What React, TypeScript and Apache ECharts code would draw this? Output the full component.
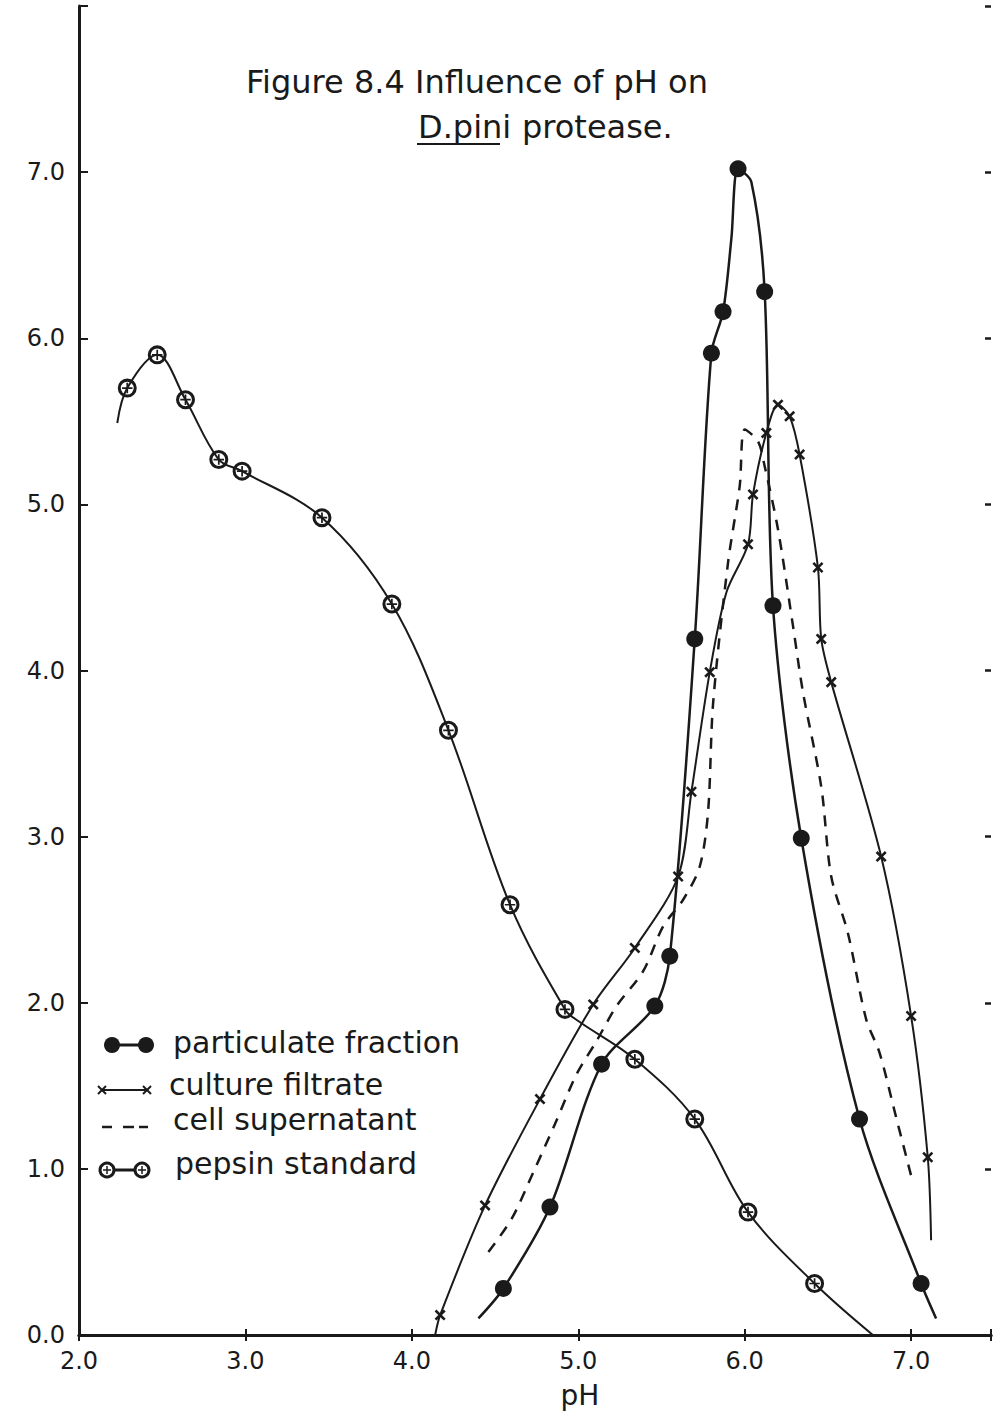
import React, { useEffect, useRef } from "react";
import * as echarts from "echarts";

const INK = "#1a1a1a";
const FONT = '"DejaVu Sans", sans-serif';

// Axis ranges (pH on x, activity on y)
const X_MIN = 2;
const X_MAX = 7.48;
const Y_MIN = 0;
const Y_MAX = 8;

// Particulate fraction: 1 = plotted point, 0 = point on the drawn curve only
const partPH = [4.4, 4.55, 4.83, 5.14, 5.46, 5.55, 5.7, 5.8, 5.87, 5.92, 5.96, 6.04, 6.12, 6.17, 6.34, 6.69, 7.06, 7.15];
const partAct = [0.1, 0.28, 0.77, 1.63, 1.98, 2.28, 4.19, 5.91, 6.16, 6.6, 7.02, 6.94, 6.28, 4.39, 2.99, 1.3, 0.31, 0.1];
const partMark = [0, 1, 1, 1, 1, 1, 1, 1, 1, 0, 1, 0, 1, 1, 1, 1, 1, 0];

// Culture filtrate
const cultPH = [4.14, 4.17, 4.44, 4.77, 5.09, 5.34, 5.6, 5.68, 5.79, 5.89, 6.02, 6.05, 6.13, 6.2, 6.27, 6.33, 6.44, 6.46, 6.52, 6.82, 7.0, 7.1, 7.12];
const cultAct = [0.0, 0.12, 0.78, 1.42, 1.99, 2.33, 2.76, 3.27, 3.99, 4.47, 4.76, 5.06, 5.43, 5.6, 5.53, 5.3, 4.62, 4.19, 3.93, 2.88, 1.92, 1.07, 0.57];
const cultMark = [0, 1, 1, 1, 1, 1, 1, 1, 1, 0, 1, 1, 1, 1, 1, 1, 1, 1, 1, 1, 1, 1, 0];

// Cell supernatant (dashed, no plotted points)
const supPH = [4.46, 4.6, 4.73, 4.86, 4.99, 5.11, 5.23, 5.39, 5.51, 5.63, 5.73, 5.78, 5.81, 5.9, 5.97, 6.0, 6.08, 6.12, 6.2, 6.29, 6.35, 6.46, 6.52, 6.62, 6.73, 6.81, 6.91, 7.01];
const supAct = [0.5, 0.7, 0.98, 1.27, 1.57, 1.77, 1.98, 2.19, 2.46, 2.62, 2.82, 3.15, 3.8, 4.65, 5.11, 5.45, 5.38, 5.23, 4.85, 4.27, 3.87, 3.3, 2.76, 2.42, 1.9, 1.7, 1.31, 0.92];

// Pepsin standard
const pepPH = [2.23, 2.29, 2.47, 2.64, 2.84, 2.98, 3.46, 3.88, 4.22, 4.59, 4.92, 5.0, 5.34, 5.7, 6.02, 6.42, 6.77];
const pepAct = [5.49, 5.7, 5.9, 5.63, 5.27, 5.2, 4.92, 4.4, 3.64, 2.59, 1.96, 1.89, 1.66, 1.3, 0.74, 0.31, 0.0];
const pepMark = [0, 1, 1, 1, 1, 1, 1, 1, 1, 1, 1, 0, 1, 1, 1, 1, 0];

const legendLabels = ["particulate fraction", "culture filtrate", "cell supernatant", "pepsin standard"];

// Marker shapes
const CROSS = "path://M4,0H6V4H10V6H6V10H4V6H0V4H4Z";
const RING =
  "path://M0,10A10,10,0,1,0,20,10A10,10,0,1,0,0,10ZM3.2,10A6.8,6.8,0,1,1,16.8,10A6.8,6.8,0,1,1,3.2,10ZM4.5,9.1H15.5V10.9H4.5ZM9.1,4.5H10.9V15.5H9.1Z";

function points(xs: number[], ys: number[], marks: number[] | null, symbol: string) {
  return xs.map((x, i) => ({
    value: [x, ys[i]],
    symbol: marks && marks[i] ? symbol : "none",
  }));
}

function legendGraphics() {
  const els: any[] = [];
  const line = (x1: number, y1: number, x2: number, y2: number, w: number) => ({
    type: "line",
    shape: { x1, y1, x2, y2 },
    style: { stroke: INK, lineWidth: w },
  });
  // particulate fraction
  els.push(line(112, 1045, 146, 1045, 3));
  els.push({ type: "circle", shape: { cx: 112, cy: 1045, r: 8 }, style: { fill: INK } });
  els.push({ type: "circle", shape: { cx: 146, cy: 1045, r: 8 }, style: { fill: INK } });
  // culture filtrate
  els.push(line(102, 1090, 147, 1090, 2));
  [102, 147].forEach((cx) => {
    els.push(line(cx - 4, 1086, cx + 4, 1094, 2));
    els.push(line(cx - 4, 1094, cx + 4, 1086, 2));
  });
  // cell supernatant
  els.push(line(102, 1127, 112, 1127, 2.5));
  els.push(line(123, 1127, 134, 1127, 2.5));
  els.push(line(139, 1127, 148, 1127, 2.5));
  // pepsin standard
  els.push(line(107, 1170, 142, 1170, 3));
  [107, 142].forEach((cx) => {
    els.push({ type: "circle", shape: { cx, cy: 1170, r: 7 }, style: { fill: "#fff", stroke: INK, lineWidth: 3 } });
    els.push(line(cx - 4, 1170, cx + 4, 1170, 1.5));
    els.push(line(cx, 1166, cx, 1174, 1.5));
  });
  const textPos = [
    [173, 1042],
    [169, 1084],
    [173, 1119],
    [175, 1163],
  ];
  legendLabels.forEach((t, i) => {
    els.push({
      type: "text",
      x: textPos[i][0],
      y: textPos[i][1],
      style: {
        text: t,
        fontSize: 30,
        lineHeight: 30,
        fontFamily: FONT,
        fill: INK,
        align: "left",
        verticalAlign: "middle",
      },
    });
  });
  return els;
}

export default function App() {
  const ref = useRef<HTMLDivElement>(null);

  useEffect(() => {
    const chart = echarts.init(ref.current!, null, { renderer: "svg" });

    const axisLineStyle = { color: INK, width: 3 };

    chart.setOption({
      animation: false,
      backgroundColor: "#ffffff",
      grid: { left: 79, top: 6, width: 915, height: 1329, containLabel: false },
      xAxis: [
        {
          type: "value",
          position: "bottom",
          min: X_MIN,
          max: X_MAX,
          interval: 1,
          axisLine: { lineStyle: axisLineStyle },
          axisTick: { inside: true, length: 6, lineStyle: { color: INK, width: 2 } },
          axisLabel: {
            margin: 14,
            fontSize: 24,
            fontFamily: FONT,
            color: INK,
            formatter: (v: number) => (Number.isInteger(v) ? v.toFixed(1) : ""),
          },
          splitLine: { show: false },
        },
        {
          type: "value",
          position: "top",
          min: X_MIN,
          max: X_MAX,
          interval: 1,
          axisLine: { lineStyle: axisLineStyle },
          axisTick: { inside: true, length: 6, lineStyle: { color: INK, width: 2 } },
          axisLabel: { show: false },
          splitLine: { show: false },
        },
      ],
      yAxis: [
        {
          type: "value",
          position: "left",
          min: Y_MIN,
          max: Y_MAX,
          interval: 1,
          axisLine: { lineStyle: axisLineStyle },
          axisTick: { inside: true, length: 9, lineStyle: { color: INK, width: 2 } },
          axisLabel: {
            margin: 14,
            fontSize: 24,
            fontFamily: FONT,
            color: INK,
            padding: [0, 0, 18, 0],
            formatter: (v: number) => (v >= Y_MAX ? "" : v.toFixed(1)),
          },
          splitLine: { show: false },
        },
        {
          type: "value",
          position: "right",
          min: Y_MIN,
          max: Y_MAX,
          interval: 1,
          axisLine: { show: false },
          axisTick: { inside: true, length: 6, lineStyle: { color: INK, width: 2.5 } },
          axisLabel: { show: false },
          splitLine: { show: false },
        },
      ],
      series: [
        {
          name: "pepsin standard",
          type: "line",
          smooth: 0.35,
          data: points(pepPH, pepAct, pepMark, RING),
          symbolSize: 19,
          lineStyle: { color: INK, width: 2 },
          itemStyle: { color: INK },
          z: 3,
        },
        {
          name: "cell supernatant",
          type: "line",
          smooth: 0.3,
          data: points(supPH, supAct, null, "none"),
          showSymbol: false,
          lineStyle: { color: INK, width: 2.5, type: [11, 9] },
          z: 2,
        },
        {
          name: "culture filtrate",
          type: "line",
          smooth: 0.3,
          data: points(cultPH, cultAct, cultMark, CROSS),
          symbolSize: 13,
          symbolRotate: 45,
          lineStyle: { color: INK, width: 2 },
          itemStyle: { color: INK },
          z: 3,
        },
        {
          name: "particulate fraction",
          type: "line",
          smooth: 0.3,
          data: points(partPH, partAct, partMark, "circle"),
          symbolSize: 17,
          lineStyle: { color: INK, width: 2.5 },
          itemStyle: { color: INK },
          z: 4,
        },
      ],
      graphic: [
        {
          type: "text",
          x: 246,
          y: 82,
          style: { text: "Figure 8.4 Influence of pH on", fontSize: 32, fontFamily: FONT, fill: INK, verticalAlign: "middle" },
        },
        {
          type: "text",
          x: 418,
          y: 127,
          style: { text: "D.pini", fontSize: 32, fontFamily: FONT, fill: INK, verticalAlign: "middle" },
        },
        {
          type: "line",
          shape: { x1: 417, y1: 144, x2: 500, y2: 144 },
          style: { stroke: INK, lineWidth: 2 },
        },
        {
          type: "text",
          x: 522,
          y: 127,
          style: { text: "protease.", fontSize: 32, fontFamily: FONT, fill: INK, verticalAlign: "middle" },
        },
        {
          type: "text",
          x: 580,
          y: 1395,
          style: { text: "pH", fontSize: 28, fontFamily: FONT, fill: INK, align: "center", verticalAlign: "middle" },
        },
        ...legendGraphics(),
      ],
    });

    return () => chart.dispose();
  }, []);

  return (
    <div
      ref={ref}
      style={{ position: "absolute", left: 0, top: 0, width: 994, height: 1418, background: "#fff" }}
    />
  );
}
